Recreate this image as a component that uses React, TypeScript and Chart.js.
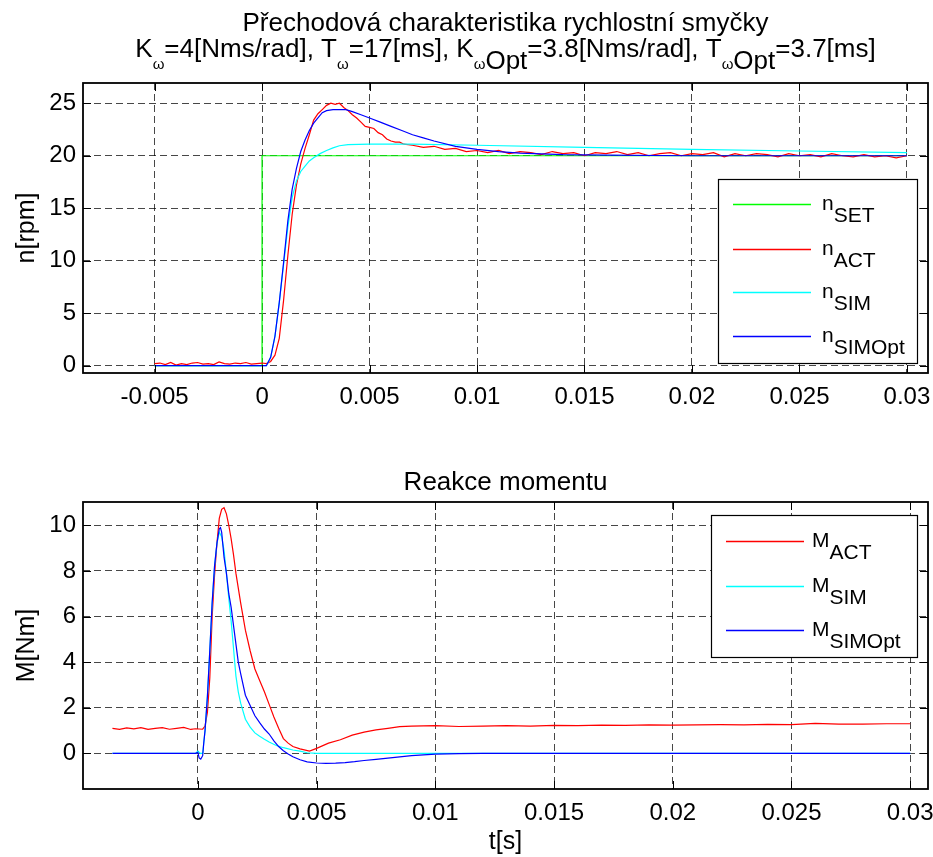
import React, { useEffect, useRef } from "react";
import { Chart, registerables } from "chart.js";
Chart.register(...registerables);

const FONT = '"Liberation Sans", Arial, Helvetica, sans-serif';
const W = 933;
const GRID = "rgba(0,0,0,0.72)";
const TICK_SIZE = 24;
const LABEL_SIZE = 25;
const TITLE_SIZE = 26;

// ---------- texts ----------
const topTitle1 = "Přechodová charakteristika rychlostní smyčky";
const bottomTitle = "Reakce momentu";
const topYLabel = "n[rpm]";
const bottomYLabel = "M[Nm]";
const bottomXLabel = "t[s]";
const topSeriesNames = ["SET", "ACT", "SIM", "SIMOpt"];
const bottomSeriesNames = ["ACT", "SIM", "SIMOpt"];

// ---------- ticks ----------
const topXTicks = [-0.005, 0, 0.005, 0.01, 0.015, 0.02, 0.025, 0.03];
const topXLabels = ["-0.005", "0", "0.005", "0.01", "0.015", "0.02", "0.025", "0.03"];
const topYTicks = [0, 5, 10, 15, 20, 25];
const topYLabels = ["0", "5", "10", "15", "20", "25"];
const bottomXTicks = [0, 0.005, 0.01, 0.015, 0.02, 0.025, 0.03];
const bottomXLabels = ["0", "0.005", "0.01", "0.015", "0.02", "0.025", "0.03"];
const bottomYTicks = [0, 2, 4, 6, 8, 10];
const bottomYLabels = ["0", "2", "4", "6", "8", "10"];

// ---------- top plot data ----------
const tSet = [-0.005, 0, 0, 0.03];
const nSet = [0, 0, 20, 20];

const tAct = [
  -0.005, -0.00475, -0.0045, -0.00425, -0.004, -0.00375, -0.0035, -0.00325, -0.003, -0.00275, -0.0025,
  -0.00225, -0.002, -0.00175, -0.0015, -0.00125, -0.001, -0.00075, -0.0005, -0.00025, 0,
  0.0002, 0.0004, 0.0006, 0.0008, 0.001, 0.0012, 0.0014, 0.0016, 0.0018, 0.002, 0.0022, 0.0024, 0.0026,
  0.0028, 0.003, 0.0032, 0.0034, 0.0036, 0.0038, 0.004, 0.0042, 0.0044, 0.0046, 0.0048, 0.005, 0.0052,
  0.0054, 0.0056, 0.0058, 0.006, 0.0062, 0.0064, 0.0066, 0.007, 0.0075, 0.008, 0.0085, 0.009, 0.0095, 0.01,
  0.0105, 0.011, 0.0115, 0.012, 0.0125, 0.013, 0.0135, 0.014, 0.0145, 0.015, 0.0155, 0.016, 0.0165, 0.017,
  0.0175, 0.018, 0.0185, 0.019, 0.0195, 0.02, 0.0205, 0.021, 0.0215, 0.022, 0.0225, 0.023, 0.0235, 0.024,
  0.0245, 0.025, 0.0255, 0.026, 0.0265, 0.027, 0.0275, 0.028, 0.0285, 0.029, 0.0295, 0.03,
];
const nAct = [
  0.2, 0.25, 0.1, 0.3, 0.05, 0.2, 0.1, 0.25, 0.3, 0.15, 0.2,
  0.1, 0.35, 0.2, 0.15, 0.25, 0.2, 0.3, 0.15, 0.2, 0.25,
  0.2, 0.4, 1.0, 2.6, 6.2, 10.5, 14.4, 17.2, 19.2, 20.7, 22.0, 23.4, 24.0,
  24.4, 24.8, 25.0, 24.9, 25.0, 24.6, 24.3, 23.9, 23.6, 23.2, 22.8, 22.7, 22.6,
  22.2, 22.0, 21.6, 21.4, 21.3, 21.3, 21.1, 21.0, 20.8, 20.9, 20.6, 20.7, 20.4, 20.5,
  20.3, 20.5, 20.2, 20.4, 20.3, 20.1, 20.4, 20.2, 20.3, 20.0, 20.3, 20.2, 20.4, 20.1,
  20.3, 20.0, 20.2, 20.3, 20.0, 20.2, 20.1, 20.3, 19.9, 20.2, 20.0, 20.2, 20.1, 19.9,
  20.2, 20.0, 20.1, 19.9, 20.2, 20.0, 19.9, 20.1, 19.9, 20.0, 19.8, 20.0,
];

const tSim = [
  -0.005, 0, 0.0002, 0.0004, 0.0006, 0.0008, 0.001, 0.0012, 0.0014, 0.0016, 0.0018, 0.002, 0.0022, 0.0024,
  0.0027, 0.003, 0.0033, 0.0036, 0.004, 0.005, 0.007, 0.01, 0.015, 0.02, 0.025, 0.03,
];
const nSim = [
  0, 0, 0, 0.8, 2.8, 6.0, 9.6, 13.2, 16.0, 17.6, 18.5, 19.0, 19.5, 19.8,
  20.2, 20.5, 20.75, 20.95, 21.05, 21.1, 21.1, 21.0, 20.8, 20.6, 20.45, 20.3,
];

const tSimOpt = [
  -0.005, 0, 0.0002, 0.0004, 0.0006, 0.0008, 0.001, 0.0012, 0.0014, 0.0016, 0.0018, 0.002, 0.0022, 0.0024,
  0.0026, 0.0028, 0.003, 0.0033, 0.0036, 0.0039, 0.0042, 0.0046, 0.005, 0.0055, 0.006, 0.0065, 0.007,
  0.0075, 0.008, 0.009, 0.01, 0.011, 0.012, 0.014, 0.016, 0.02, 0.03,
];
const nSimOpt = [
  0, 0, 0, 0.8, 2.8, 6.0, 9.8, 13.8, 16.8, 18.8, 20.4, 21.5, 22.4, 23.1,
  23.6, 24.1, 24.3, 24.4, 24.4, 24.4, 24.2, 23.9, 23.6, 23.2, 22.8, 22.4, 22.0,
  21.7, 21.4, 20.9, 20.6, 20.4, 20.25, 20.1, 20.05, 20.0, 20.0,
];

// ---------- bottom plot data ----------
const tMAct = [
  -0.0036, -0.0033, -0.003, -0.0027, -0.0024, -0.0021, -0.0018, -0.0015, -0.0012, -0.0009, -0.0006, -0.0003, -0.0001,
  0.0002, 0.0003, 0.0004, 0.0005, 0.0006, 0.0007, 0.0008, 0.0009, 0.001, 0.0011, 0.0012, 0.0013, 0.0014, 0.0015, 0.0016,
  0.0018, 0.002, 0.0022, 0.0024, 0.0026, 0.0028, 0.003, 0.0032, 0.0034, 0.0036, 0.0038, 0.004,
  0.0043, 0.0047, 0.005,
  0.0055, 0.006, 0.0065, 0.007, 0.0075, 0.008, 0.0085,
  0.009,
  0.01, 0.011, 0.012, 0.013, 0.014, 0.015, 0.016, 0.017, 0.018, 0.019, 0.02, 0.021, 0.022, 0.023, 0.024, 0.025,
  0.026, 0.027, 0.028, 0.029, 0.03,
];
const mAct = [
  1.1, 1.05, 1.12, 1.08, 1.13, 1.05, 1.1, 1.13, 1.06, 1.1, 1.14, 1.05, 1.08,
  1.06, 1.2, 1.8, 3.3, 6.0, 7.8, 9.2, 10.3, 10.7, 10.77, 10.5, 10.0, 9.4, 8.7, 7.9,
  6.6, 5.4, 4.5, 3.7, 3.2, 2.7, 2.15, 1.6, 1.1, 0.65, 0.45, 0.3,
  0.2, 0.1, 0.22,
  0.45, 0.6, 0.8, 0.93, 1.03, 1.1, 1.17,
  1.2,
  1.22, 1.18, 1.2, 1.22, 1.2, 1.23, 1.22, 1.24, 1.23, 1.25, 1.24, 1.25, 1.26, 1.25, 1.27, 1.26,
  1.32, 1.28, 1.28, 1.3, 1.3,
];

const tMSim = [
  -0.0036, -0.0001, 0, 0.0001, 0.0002, 0.0003, 0.0004, 0.0005, 0.0006, 0.0007, 0.0008, 0.0009, 0.001, 0.0011,
  0.0012, 0.0013, 0.0014, 0.0015, 0.0016, 0.0017, 0.0018, 0.002, 0.0022, 0.0024, 0.0026, 0.0028, 0.003,
  0.0033, 0.0036, 0.004, 0.0043, 0.0046, 0.005, 0.03,
];
const mSim = [
  0, 0, 0.1, 0, 0, 1.0, 2.5, 4.5, 6.6, 8.2, 9.2, 9.7, 9.5, 8.9,
  7.9, 6.8, 5.8, 4.6, 3.4, 2.7, 2.2, 1.5, 1.15, 0.9, 0.75, 0.62, 0.5,
  0.35, 0.25, 0.15, 0.1, 0.03, 0, 0,
];

const tMSimOpt = [
  -0.0036, -0.0001, 0, 0.00005, 0.00012, 0.0002, 0.00025, 0.0003, 0.0004, 0.0005, 0.0006, 0.0007, 0.0008,
  0.0009, 0.00095, 0.001, 0.0011, 0.0012, 0.0013, 0.0014, 0.0015, 0.0016, 0.0017, 0.0018, 0.002, 0.0022,
  0.0024, 0.0026, 0.0028, 0.003, 0.0032, 0.0034, 0.0036, 0.0038, 0.004, 0.0043, 0.0046, 0.005, 0.0054,
  0.0058, 0.0062, 0.0066, 0.007, 0.0075, 0.008, 0.0085, 0.009, 0.0095, 0.01, 0.011, 0.012, 0.03,
];
const mSimOpt = [
  0, 0, 0.05, -0.2, -0.25, -0.1, 0.5, 1.0, 2.5, 4.5, 6.6, 8.2, 9.2,
  9.85, 9.9, 9.7, 8.6, 7.9, 7.0, 6.4, 5.6, 4.8, 4.0, 3.5, 2.55, 2.1,
  1.65, 1.35, 1.07, 0.85, 0.55, 0.3, 0.12, -0.03, -0.15, -0.28, -0.37, -0.42, -0.44,
  -0.43, -0.4, -0.36, -0.31, -0.26, -0.21, -0.15, -0.1, -0.06, -0.03, -0.01, 0, 0,
];

// ---------- colors ----------
const GREEN = "#00ff00";
const RED = "#ff0000";
const CYAN = "#00ffff";
const BLUE = "#0000ff";

// ---------- helpers ----------
const pts = (t: number[], y: number[]) => t.map((x, i) => ({ x, y: y[i] }));

type Seg = { t: string; sub?: boolean; size?: number };
function drawRich(ctx: CanvasRenderingContext2D, segs: Seg[], x: number, y: number, align: "left" | "center", size: number, subDy: number) {
  const f = (s: number) => `${s}px ${FONT}`;
  let total = 0;
  for (const s of segs) {
    ctx.font = f(s.size ?? size);
    total += ctx.measureText(s.t).width;
  }
  let cx = align === "center" ? x - total / 2 : x;
  ctx.textAlign = "left";
  ctx.textBaseline = "alphabetic";
  ctx.fillStyle = "#000";
  for (const s of segs) {
    ctx.font = f(s.size ?? size);
    ctx.fillText(s.t, cx, y + (s.sub ? subDy : 0));
    cx += ctx.measureText(s.t).width;
  }
}

function framePlugin(xTicks: number[], yTicks: number[]) {
  return {
    id: "matlabFrame",
    afterDatasetsDraw(chart: any) {
      const { ctx, chartArea: a, scales } = chart;
      ctx.save();
      ctx.strokeStyle = "#000";
      ctx.lineWidth = 1;
      ctx.setLineDash([]);
      ctx.beginPath();
      for (const v of xTicks) {
        const p = Math.round(scales.x.getPixelForValue(v)) + 0.5;
        ctx.moveTo(p, a.bottom);
        ctx.lineTo(p, a.bottom - 8);
        ctx.moveTo(p, a.top);
        ctx.lineTo(p, a.top + 8);
      }
      for (const v of yTicks) {
        const p = Math.round(scales.y.getPixelForValue(v)) + 0.5;
        ctx.moveTo(a.left, p);
        ctx.lineTo(a.left + 8, p);
        ctx.moveTo(a.right, p);
        ctx.lineTo(a.right - 8, p);
      }
      ctx.stroke();
      ctx.lineWidth = 1.8;
      ctx.strokeRect(a.left, a.top, a.right - a.left, a.bottom - a.top);
      ctx.restore();
    },
  };
}

type LegendSpec = {
  box: [number, number, number, number];
  x1: number;
  x2: number;
  tx: number;
  rows: number[];
  items: { color: string; main: string; sub: string }[];
};
function legendPlugin(spec: LegendSpec) {
  return {
    id: "matlabLegend",
    afterDraw(chart: any) {
      const ctx: CanvasRenderingContext2D = chart.ctx;
      const [l, t, r, b] = spec.box;
      ctx.save();
      ctx.fillStyle = "#fff";
      ctx.fillRect(l, t, r - l, b - t);
      ctx.strokeStyle = "#000";
      ctx.lineWidth = 1.2;
      ctx.setLineDash([]);
      ctx.strokeRect(l + 0.5, t + 0.5, r - l, b - t);
      spec.items.forEach((it, i) => {
        const y = spec.rows[i];
        ctx.strokeStyle = it.color;
        ctx.lineWidth = 1.3;
        ctx.beginPath();
        ctx.moveTo(spec.x1, y + 0.5);
        ctx.lineTo(spec.x2, y + 0.5);
        ctx.stroke();
        drawRich(ctx, [{ t: it.main }, { t: it.sub, sub: true }], spec.tx, y + 6, "left", 21, 12);
      });
      ctx.restore();
    },
  };
}

function titlePlugin(draw: (ctx: CanvasRenderingContext2D, cx: number) => void) {
  return {
    id: "matlabTitle",
    afterDraw(chart: any) {
      const a = chart.chartArea;
      chart.ctx.save();
      draw(chart.ctx, (a.left + a.right) / 2);
      chart.ctx.restore();
    },
  };
}

function xScale(min: number, max: number, ticks: number[], labels: string[], height: number, pad: number, title?: string) {
  return {
    type: "linear",
    min,
    max,
    afterBuildTicks: (s: any) => {
      s.ticks = ticks.map((v) => ({ value: v }));
    },
    afterFit: (s: any) => {
      s.height = height;
      s.paddingLeft = 0;
      s.paddingRight = 0;
    },
    ticks: {
      autoSkip: false,
      maxRotation: 0,
      minRotation: 0,
      padding: pad,
      color: "#000",
      font: { family: FONT, size: TICK_SIZE },
      callback: (v: number) => labels[ticks.indexOf(v)] ?? "",
    },
    grid: { drawTicks: false, color: GRID, lineWidth: 1, borderDash: [7, 4] },
    border: { display: false, dash: [7, 4] },
    title: title
      ? { display: true, text: title, color: "#000", font: { family: FONT, size: LABEL_SIZE }, padding: { top: 8, bottom: 0 } }
      : { display: false },
  };
}

function yScale(min: number, max: number, ticks: number[], labels: string[], title: string) {
  return {
    type: "linear",
    min,
    max,
    afterBuildTicks: (s: any) => {
      s.ticks = ticks.map((v) => ({ value: v }));
    },
    afterFit: (s: any) => {
      s.width = 83;
      s.paddingTop = 0;
      s.paddingBottom = 0;
    },
    ticks: {
      autoSkip: false,
      padding: 7,
      color: "#000",
      font: { family: FONT, size: TICK_SIZE },
      callback: (v: number) => labels[ticks.indexOf(v)] ?? "",
    },
    grid: { drawTicks: false, color: GRID, lineWidth: 1, borderDash: [7, 4] },
    border: { display: false, dash: [7, 4] },
    title: { display: true, text: title, color: "#000", font: { family: FONT, size: LABEL_SIZE }, padding: { top: 12, bottom: 0 } },
  };
}

const ds = (label: string, t: number[], y: number[], color: string, order: number) => ({
  label,
  data: pts(t, y),
  borderColor: color,
  backgroundColor: color,
  borderWidth: 1.2,
  pointRadius: 0,
  tension: 0,
  fill: false,
  order,
});

function makeTop(): any {
  return {
    type: "line",
    data: {
      datasets: [
        ds(topSeriesNames[0], tSet, nSet, GREEN, 4),
        ds(topSeriesNames[1], tAct, nAct, RED, 3),
        ds(topSeriesNames[2], tSim, nSim, CYAN, 2),
        ds(topSeriesNames[3], tSimOpt, nSimOpt, BLUE, 1),
      ],
    },
    options: {
      animation: false,
      responsive: false,
      maintainAspectRatio: false,
      events: [],
      layout: { padding: { top: 83, left: 0, right: 5, bottom: 0 } },
      plugins: { legend: { display: false }, title: { display: false }, tooltip: { enabled: false } },
      scales: {
        x: xScale(-0.00833, 0.03098, topXTicks, topXLabels, 67, 10),
        y: yScale(-0.7, 26.93, topYTicks, topYLabels, topYLabel),
      },
    },
    plugins: [
      framePlugin(topXTicks, topYTicks),
      legendPlugin({
        box: [718, 179, 917, 363],
        x1: 733,
        x2: 811,
        tx: 822,
        rows: [204, 249, 292, 336],
        items: [
          { color: GREEN, main: "n", sub: topSeriesNames[0] },
          { color: RED, main: "n", sub: topSeriesNames[1] },
          { color: CYAN, main: "n", sub: topSeriesNames[2] },
          { color: BLUE, main: "n", sub: topSeriesNames[3] },
        ],
      }),
      titlePlugin((ctx, cx) => {
        drawRich(ctx, [{ t: topTitle1 }], cx, 31, "center", TITLE_SIZE, 0);
        const w = 15;
        drawRich(
          ctx,
          [
            { t: "K" },
            { t: "ω", sub: true, size: w },
            { t: "=4[Nms/rad], T" },
            { t: "ω", sub: true, size: w },
            { t: "=17[ms], K" },
            { t: "ω", sub: true, size: w },
            { t: "Opt", sub: true },
            { t: "=3.8[Nms/rad], T" },
            { t: "ω", sub: true, size: w },
            { t: "Opt", sub: true },
            { t: "=3.7[ms]" },
          ],
          cx,
          57,
          "center",
          TITLE_SIZE,
          12
        );
      }),
    ],
  };
}

function makeBottom(): any {
  return {
    type: "line",
    data: {
      datasets: [
        ds(bottomSeriesNames[0], tMAct, mAct, RED, 3),
        ds(bottomSeriesNames[1], tMSim, mSim, CYAN, 2),
        ds(bottomSeriesNames[2], tMSimOpt, mSimOpt, BLUE, 1),
      ],
    },
    options: {
      animation: false,
      responsive: false,
      maintainAspectRatio: false,
      events: [],
      layout: { padding: { top: 62, left: 0, right: 5, bottom: 0 } },
      plugins: { legend: { display: false }, title: { display: false }, tooltip: { enabled: false } },
      scales: {
        x: xScale(-0.00484, 0.03075, bottomXTicks, bottomXLabels, 68, 10, bottomXLabel),
        y: yScale(-1.56, 11.02, bottomYTicks, bottomYLabels, bottomYLabel),
      },
    },
    plugins: [
      framePlugin(bottomXTicks, bottomYTicks),
      legendPlugin({
        box: [711, 75, 917, 217],
        x1: 726,
        x2: 804,
        tx: 812,
        rows: [101, 146, 190],
        items: [
          { color: RED, main: "M", sub: bottomSeriesNames[0] },
          { color: CYAN, main: "M", sub: bottomSeriesNames[1] },
          { color: BLUE, main: "M", sub: bottomSeriesNames[2] },
        ],
      }),
      titlePlugin((ctx, cx) => {
        drawRich(ctx, [{ t: bottomTitle }], cx, 50, "center", TITLE_SIZE, 0);
      }),
    ],
  };
}

function ChartBox({ make, top, height }: { make: () => any; top: number; height: number }) {
  const ref = useRef<HTMLCanvasElement>(null);
  useEffect(() => {
    const c = new Chart(ref.current as HTMLCanvasElement, make());
    return () => c.destroy();
  }, []);
  return (
    <canvas
      ref={ref}
      width={W}
      height={height}
      style={{ position: "absolute", left: 0, top, width: W, height, display: "block" }}
    />
  );
}

export default function App() {
  return (
    <div style={{ position: "absolute", left: 0, top: 0, width: W, height: 857, background: "#fff", overflow: "hidden" }}>
      <ChartBox make={makeTop} top={0} height={440} />
      <ChartBox make={makeBottom} top={440} height={417} />
    </div>
  );
}
